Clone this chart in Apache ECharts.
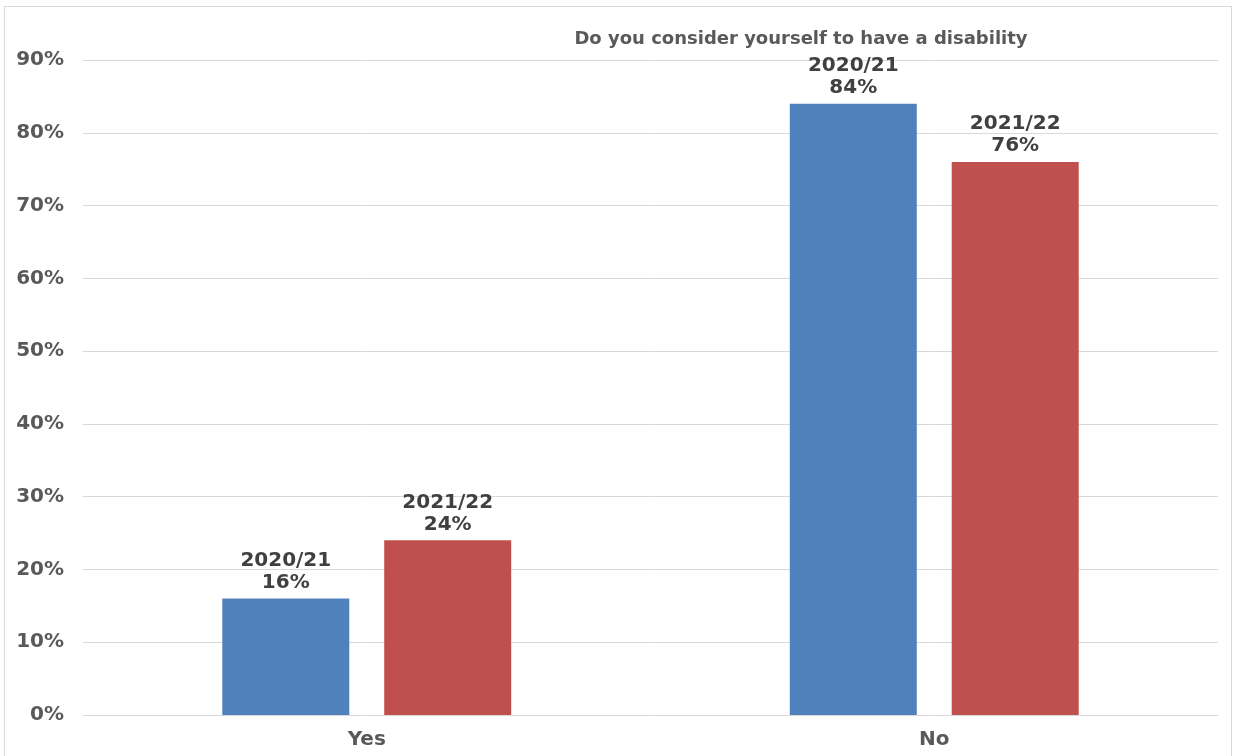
<!DOCTYPE html>
<html>
<head>
<meta charset="utf-8">
<script src="https://cdn.jsdelivr.net/npm/echarts@6/dist/echarts.min.js"></script>
<style>
html,body{margin:0;padding:0;background:#fff;}
#frame{position:absolute;left:4px;top:6px;width:1228px;height:780px;border:1px solid #d9d9d9;box-sizing:border-box;}
#chart{position:absolute;left:0;top:0;width:1238px;height:756px;}
</style>
</head>
<body>
<div id="frame"></div>
<div id="chart"></div>
<script>
const titleText = 'Do you consider yourself to have a disability';
const categories = ['Yes', 'No'];
const seriesNames = ['2020/21', '2021/22'];
const values2020 = [16, 84];
const values2021 = [24, 76];
const yTicks = [0, 10, 20, 30, 40, 50, 60, 70, 80, 90];

const font = 'DejaVu Sans';
const chart = echarts.init(document.getElementById('chart'));
const labelStyle = {
  show: true,
  position: 'top',
  distance: 5,
  formatter: '{a}\n{c}%',
  color: '#404040',
  fontFamily: font,
  fontWeight: 'bold',
  fontSize: 20,
  lineHeight: 22,
  align: 'center'
};
chart.setOption({
  animation: false,
  title: {
    text: titleText,
    left: 796,
    top: 25,
    textAlign: 'center',
    padding: 5,
    textStyle: {color: '#595959', fontFamily: font, fontWeight: 'bold', fontSize: 18}
  },
  grid: {left: 83, right: 20, top: 60, bottom: 41, containLabel: false},
  xAxis: {
    type: 'category',
    data: categories,
    axisLine: {show: false},
    axisTick: {show: false},
    axisLabel: {color: '#595959', fontFamily: font, fontWeight: 'bold', fontSize: 20, margin: 15}
  },
  yAxis: {
    type: 'value',
    min: yTicks[0],
    max: yTicks[yTicks.length - 1],
    interval: 10,
    axisLine: {show: false},
    axisTick: {show: false},
    splitLine: {lineStyle: {color: '#d9d9d9', width: 1}},
    axisLabel: {formatter: '{value}%', color: '#595959', fontFamily: font, fontWeight: 'bold', fontSize: 20, margin: 19}
  },
  series: [
    {name: seriesNames[0], type: 'bar', data: values2020, barWidth: 127, barGap: '27.5%',
     itemStyle: {color: '#4F81BD'}, label: labelStyle},
    {name: seriesNames[1], type: 'bar', data: values2021, barWidth: 127, barGap: '27.5%',
     itemStyle: {color: '#C0504D'}, label: labelStyle}
  ]
});
</script>
</body>
</html>
